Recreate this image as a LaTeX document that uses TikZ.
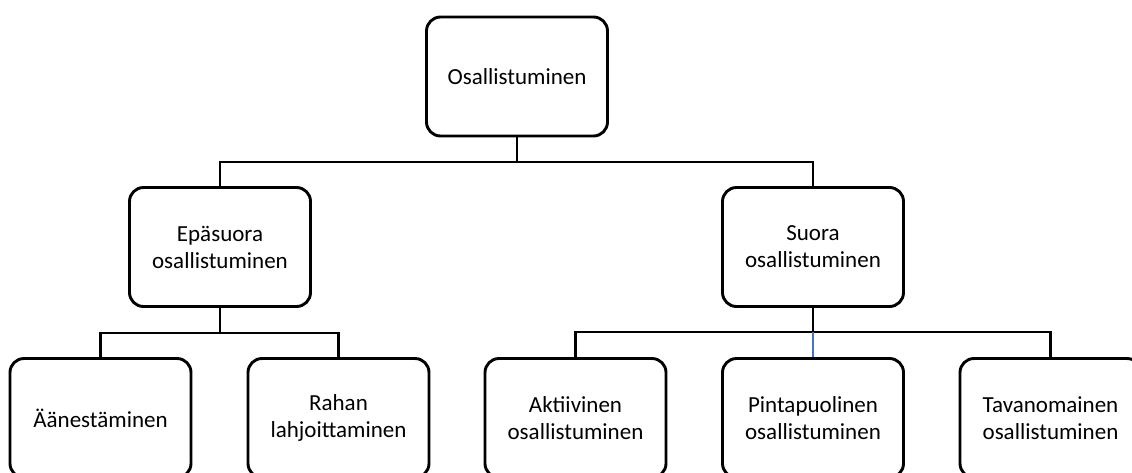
\documentclass[tikz,border=0pt]{standalone}
\usepackage{fontspec}
\setmainfont{Carlito}
\definecolor{linkblue}{HTML}{4472C4}
\begin{document}
\begin{tikzpicture}[x=1pt,y=-1pt,
  box/.style={draw=black,line width=2.9pt,rounded corners=14pt,minimum width=181pt,minimum height=119pt,inner sep=0pt,align=center,font=\fontsize{23}{27}\selectfont},
  conn/.style={draw=black,line width=2.6pt}]
\useasboundingbox (0,0) rectangle (1132,472);
\clip (0,0) rectangle (1132,472);
\node[box] (top) at (517,76.5) {Osallistuminen};
\node[box] (epa) at (220,247) {Epäsuora\\osallistuminen};
\node[box] (suo) at (813,247) {Suora\\osallistuminen};
\node[box] (aan) at (100.5,418) {Äänestäminen};
\node[box] (rah) at (338.5,418) {Rahan\\lahjoittaminen};
\node[box] (akt) at (575.5,418) {Aktiivinen\\osallistuminen};
\node[box] (pin) at (813,418) {Pintapuolinen\\osallistuminen};
\node[box] (tav) at (1050.5,418) {Tavanomainen\\osallistuminen};
\coordinate (j1) at (517,162);
\coordinate (j2) at (220,333);
\coordinate (j3) at (813,332);
\draw[conn] (top.south) -- (j1);
\draw[conn] (epa.north) |- (j1) -| (suo.north);
\draw[conn] (epa.south) -- (j2);
\draw[conn] (aan.north) |- (j2) -| (rah.north);
\draw[conn] (suo.south) -- (j3);
\draw[conn] (akt.north) |- (j3) -| (tav.north);
\draw[conn,draw=linkblue] (j3) -- (pin.north);
\end{tikzpicture}
\end{document}
